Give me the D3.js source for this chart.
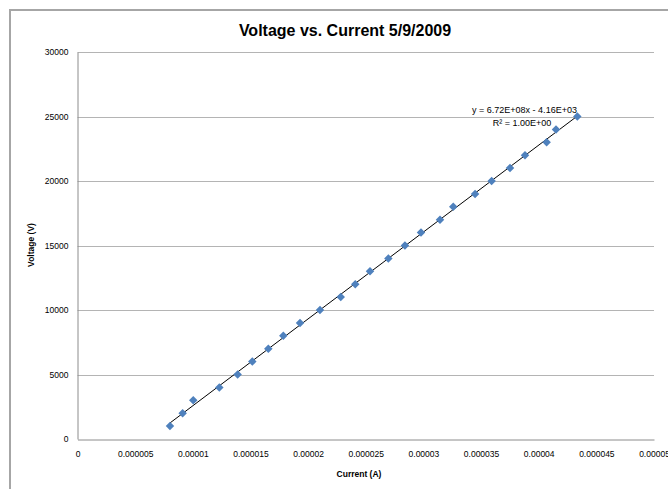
<!DOCTYPE html>
<html>
<head>
<meta charset="utf-8">
<script src="https://cdn.jsdelivr.net/npm/d3@7"></script>
<style>
  html, body { margin: 0; padding: 0; background: #fff; }
  svg { display: block; }
  text { font-family: "Liberation Sans", Arial, sans-serif; fill: #000; }
</style>
</head>
<body>
<svg id="chart" width="668" height="489"></svg>
<script>
// ---- data ----
const currentA = [8.02e-6, 9.12e-6, 1.004e-5, 1.230e-5, 1.389e-5, 1.516e-5, 1.655e-5, 1.785e-5,
  1.930e-5, 2.103e-5, 2.283e-5, 2.409e-5, 2.537e-5, 2.696e-5, 2.840e-5, 2.979e-5, 3.144e-5,
  3.259e-5, 3.448e-5, 3.592e-5, 3.751e-5, 3.881e-5, 4.069e-5, 4.150e-5, 4.335e-5];
const voltageV = [1000, 2000, 3000, 4000, 5000, 6000, 7000, 8000, 9000, 10000, 11000, 12000,
  13000, 14000, 15000, 16000, 17000, 18000, 19000, 20000, 21000, 22000, 23000, 24000, 25000];
const xTickValues = [0, 0.000005, 0.00001, 0.000015, 0.00002, 0.000025, 0.00003, 0.000035, 0.00004, 0.000045, 0.00005];
const xTickLabels = ["0", "0.000005", "0.00001", "0.000015", "0.00002", "0.000025", "0.00003", "0.000035", "0.00004", "0.000045", "0.00005"];
const yTickValues = [0, 5000, 10000, 15000, 20000, 25000, 30000];
const yTickLabels = ["0", "5000", "10000", "15000", "20000", "25000", "30000"];
const titleText = "Voltage vs. Current 5/9/2009";
const xTitle = "Current (A)";
const yTitle = "Voltage (V)";
const eqText = "y = 6.72E+08x - 4.16E+03";
const r2Text = "R\u00B2 = 1.00E+00";

const points = currentA.map((c, i) => ({ x: c, y: voltageV[i] }));

const svg = d3.select("#chart");

// outer chart border
svg.append("rect")
  .attr("x", 10).attr("y", 10).attr("width", 680).attr("height", 500)
  .attr("fill", "#fff").attr("stroke", "#a6a6a6").attr("stroke-width", 2);

const plotL = 77.5, plotR = 654, plotT = 52, plotB = 439;
const x = d3.scaleLinear().domain([0, 0.00005]).range([plotL, plotR]);
const y = d3.scaleLinear().domain([0, 30000]).range([plotB, plotT]);

// gridlines
svg.append("g").selectAll("line").data(yTickValues.filter(v => v > 0)).join("line")
  .attr("x1", plotL).attr("x2", plotR)
  .attr("y1", d => Math.round(y(d)) + 0.5).attr("y2", d => Math.round(y(d)) + 0.5)
  .attr("stroke", "#b4b4b4").attr("stroke-width", 1);

// axes
const yAxis = d3.axisLeft(y).tickValues(yTickValues)
  .tickFormat((d, i) => yTickLabels[i]).tickSize(0).tickPadding(9);
const gy = svg.append("g").attr("transform", `translate(${plotL},0)`).call(yAxis);
gy.select(".domain").attr("stroke", "#8c8c8c");
gy.selectAll("text").style("font-size", "8.5px").attr("font-family", "Liberation Sans, Arial, sans-serif");

const xAxis = d3.axisBottom(x).tickValues(xTickValues)
  .tickFormat((d, i) => xTickLabels[i]).tickSize(0).tickPadding(11);
const gx = svg.append("g").attr("transform", `translate(0,${Math.round(plotB) + 0.5})`).call(xAxis);
gx.select(".domain").attr("stroke", "#8c8c8c");
gx.selectAll("text").style("font-size", "8.5px").attr("font-family", "Liberation Sans, Arial, sans-serif");

// trendline via least squares
const mx = d3.mean(points, d => d.x), my = d3.mean(points, d => d.y);
const slope = d3.sum(points, d => (d.x - mx) * (d.y - my)) / d3.sum(points, d => (d.x - mx) ** 2);
const intercept = my - slope * mx;
const [xmin, xmax] = d3.extent(points, d => d.x);
svg.append("line")
  .attr("x1", x(xmin)).attr("y1", y(slope * xmin + intercept))
  .attr("x2", x(xmax)).attr("y2", y(slope * xmax + intercept))
  .attr("stroke", "#000").attr("stroke-width", 1);

// markers
svg.append("g").selectAll("path").data(points).join("path")
  .attr("d", d3.symbol(d3.symbolSquare, 36)())
  .attr("transform", d => `translate(${x(d.x)},${y(d.y)}) rotate(45)`)
  .attr("fill", "#4F81BD");

// equation labels
svg.append("text").attr("x", 524.5).attr("y", 113).attr("text-anchor", "middle")
  .style("font-size", "9px").text(eqText);
svg.append("text").attr("x", 522).attr("y", 126).attr("text-anchor", "middle")
  .style("font-size", "9px").text(r2Text);

// titles
svg.append("text").attr("x", 345).attr("y", 36).attr("text-anchor", "middle")
  .style("font-size", "16px").style("font-weight", "bold").text(titleText);
svg.append("text").attr("x", 359).attr("y", 477).attr("text-anchor", "middle")
  .style("font-size", "8.5px").style("font-weight", "bold").text(xTitle);
svg.append("text").attr("transform", "translate(34,245) rotate(-90)").attr("text-anchor", "middle")
  .style("font-size", "8.5px").style("font-weight", "bold").text(yTitle);
</script>
</body>
</html>
